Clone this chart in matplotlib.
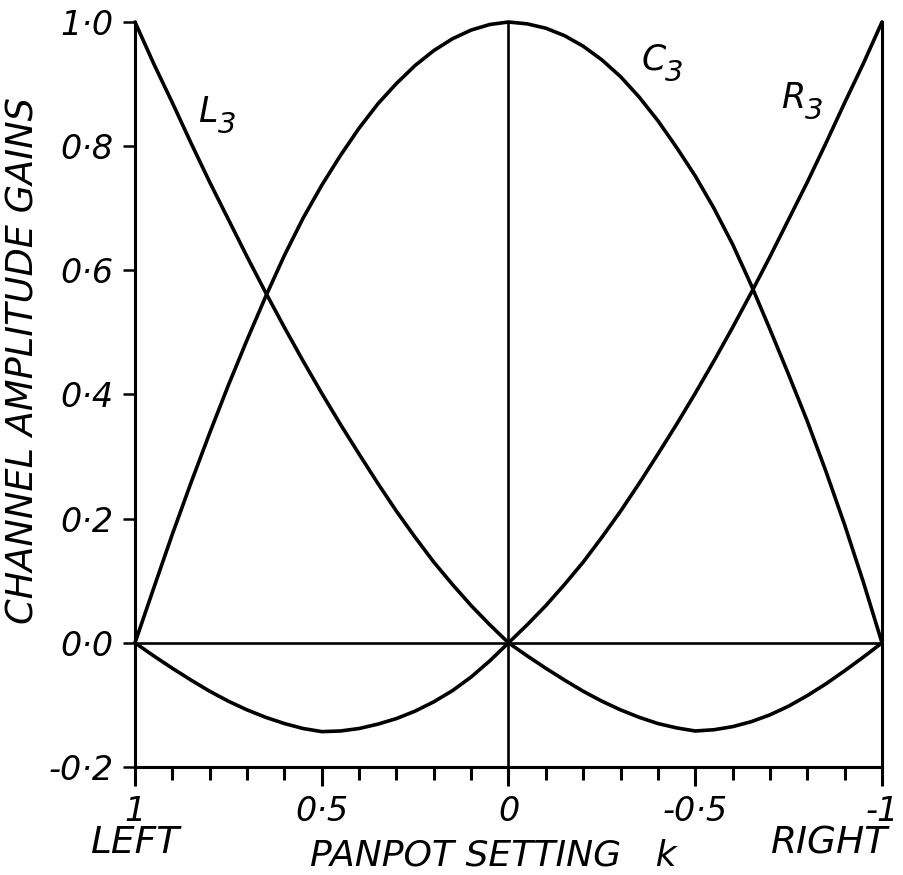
import matplotlib
matplotlib.use("Agg")
import matplotlib.pyplot as plt
from matplotlib.ticker import FixedLocator, FixedFormatter

plt.rcParams['font.family'] = ['DejaVu Sans']
plt.rcParams['font.style'] = 'italic'

# Panpot setting k (1 = full left, -1 = full right)
k = [1.00, 0.95, 0.90, 0.85, 0.80, 0.75, 0.70, 0.65, 0.60, 0.55, 0.50,
     0.45, 0.40, 0.35, 0.30, 0.25, 0.20, 0.15, 0.10, 0.05, 0.00,
     -0.05, -0.10, -0.15, -0.20, -0.25, -0.30, -0.35, -0.40, -0.45, -0.50,
     -0.55, -0.60, -0.65, -0.70, -0.75, -0.80, -0.85, -0.90, -0.95, -1.00]

# Channel amplitude gains of the three-speaker law
L3 = [1.000, 0.933, 0.870, 0.805, 0.742, 0.682, 0.622, 0.564, 0.508, 0.454, 0.402,
      0.352, 0.304, 0.257, 0.212, 0.170, 0.130, 0.094, 0.060, 0.029, 0.000,
      -0.021, -0.041, -0.060, -0.078, -0.094, -0.108, -0.120, -0.130, -0.137, -0.142,
      -0.140, -0.135, -0.127, -0.116, -0.102, -0.085, -0.066, -0.045, -0.023, 0.000]

C3 = [0.000, 0.088, 0.175, 0.258, 0.338, 0.415, 0.488, 0.558, 0.624, 0.684, 0.737,
      0.785, 0.829, 0.868, 0.901, 0.930, 0.954, 0.973, 0.987, 0.996, 1.000,
      0.997, 0.990, 0.978, 0.961, 0.939, 0.912, 0.879, 0.841, 0.798, 0.752,
      0.700, 0.642, 0.576, 0.505, 0.432, 0.357, 0.276, 0.190, 0.098, 0.000]

R3 = [0.000, -0.021, -0.041, -0.060, -0.078, -0.094, -0.108, -0.120, -0.130, -0.138, -0.143,
      -0.142, -0.138, -0.131, -0.122, -0.110, -0.095, -0.077, -0.055, -0.029, 0.000,
      0.029, 0.060, 0.094, 0.130, 0.170, 0.212, 0.257, 0.304, 0.352, 0.402,
      0.454, 0.508, 0.564, 0.622, 0.682, 0.742, 0.805, 0.870, 0.933, 1.000]

y_ticks = [-0.2, 0.0, 0.2, 0.4, 0.6, 0.8, 1.0]
y_tick_labels = ['-0·2', '0·0', '0·2', '0·4', '0·6', '0·8', '1·0']
x_major = [1.0, 0.5, 0.0, -0.5, -1.0]
x_major_labels = ['1', '0·5', '0', '-0·5', '-1']
x_minor = [0.9, 0.8, 0.7, 0.6, 0.4, 0.3, 0.2, 0.1,
           -0.1, -0.2, -0.3, -0.4, -0.6, -0.7, -0.8, -0.9]

W, H = 904, 875
fig = plt.figure(figsize=(W / 100, H / 100), dpi=100)
fig.patch.set_facecolor('white')
ax = fig.add_axes([135 / W, 108 / H, 747 / W, 745 / H])
ax.set_xlim(1, -1)
ax.set_ylim(-0.2, 1.0)

ink = 'black'
ax.axhline(0, color=ink, lw=1.9, zorder=2)
ax.axvline(0, color=ink, lw=1.9, zorder=2)
for series in (L3, C3, R3):
    ax.plot(k, series, color=ink, lw=2.6, solid_capstyle='round',
            solid_joinstyle='round', zorder=3, clip_on=False)

ax.spines['top'].set_visible(False)
for side in ('left', 'right', 'bottom'):
    ax.spines[side].set_linewidth(2.2)
    ax.spines[side].set_color(ink)

ax.yaxis.set_major_locator(FixedLocator(y_ticks))
ax.yaxis.set_major_formatter(FixedFormatter(y_tick_labels))
ax.xaxis.set_major_locator(FixedLocator(x_major))
ax.xaxis.set_major_formatter(FixedFormatter(x_major_labels))
ax.xaxis.set_minor_locator(FixedLocator(x_minor))

ax.tick_params(axis='y', direction='out', length=8.5, width=1.8, pad=7,
               labelsize=24, colors=ink)
ax.tick_params(axis='x', which='major', direction='out', length=14, width=2.2,
               pad=6, labelsize=24, colors=ink)
ax.tick_params(axis='x', which='minor', direction='out', length=9, width=2.2)


def sub_label(x, y, main, sub):
    t = ax.text(x, y, main, fontsize=25, ha='left', va='baseline', color=ink)
    ax.annotate(sub, xy=(1.0, 0.0), xycoords=t, xytext=(0, -3),
                textcoords='offset points', fontsize=21, ha='left',
                va='baseline', color=ink)


sub_label(0.83, 0.839, 'L', '3')
sub_label(-0.355, 0.923, 'C', '3')
sub_label(-0.729, 0.861, 'R', '3')

fig.text(23 / W, 1 - 361 / H, 'CHANNEL AMPLITUDE GAINS', rotation=90,
         ha='center', va='center', fontsize=26.5, color=ink)
fig.text(136 / W, 1 - 843 / H, 'LEFT', ha='center', va='center',
         fontsize=27, color=ink)
fig.text(830 / W, 1 - 843 / H, 'RIGHT', ha='center', va='center',
         fontsize=27, color=ink)
fig.text(493 / W, 1 - 856 / H, 'PANPOT SETTING   k', ha='center', va='center',
         fontsize=26, color=ink)

fig.savefig('out.png', dpi=100, facecolor='white')
